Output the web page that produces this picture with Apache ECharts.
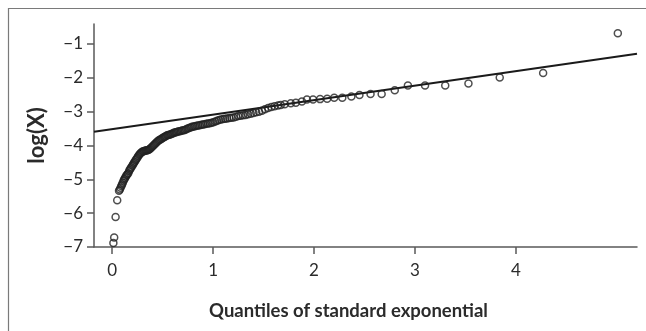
<!DOCTYPE html>
<html>
<head>
<meta charset="utf-8">
<script src="https://cdn.jsdelivr.net/npm/echarts@6/dist/echarts.min.js"></script>
<style>
html,body{margin:0;padding:0;background:#fff;}
#chart{width:646px;height:331px;}
</style>
</head>
<body>
<div id="chart"></div>
<script>
// ---- data ----
const lowX = [0.012, 0.020, 0.034, 0.050, 0.068];
const lowY = [-6.88, -6.72, -6.11, -5.62, -5.34];

const bandX = [
  0.076,0.083,0.091,0.098,0.105,0.113,0.120,0.128,0.135,0.143,
  0.151,0.159,0.167,0.174,0.182,0.190,0.199,0.207,0.215,0.223,
  0.232,0.240,0.249,0.257,0.266,0.274,0.283,0.292,0.301,0.310,
  0.319,0.329,0.338,0.347,0.357,0.366,0.376,0.386,0.396,0.406,
  0.416,0.426,0.436,0.446,0.457,0.467,0.478,0.489,0.500,0.511,
  0.522,0.533,0.545,0.556,0.568,0.580,0.592,0.604,0.616,0.629,
  0.641,0.654,0.667,0.680,0.693,0.707,0.720,0.734,0.748,0.762,
  0.777,0.791,0.806,0.821,0.836,0.852,0.868,0.884,0.900,0.916,
  0.933,0.950,0.968,0.985,1.003,1.022,1.040,1.059,1.079,1.099,
  1.119,1.139,1.161,1.182,1.204,1.227,1.250,1.273,1.297,1.322,
  1.347,1.373,1.400,1.427,1.455,1.484,1.514,1.545,1.577,1.609,
  1.643
];
const bandY = [
  -5.30,-5.25,-5.20,-5.15,-5.10,-5.04,-5.00,-4.96,-4.92,-4.88,
  -4.85,-4.82,-4.76,-4.72,-4.68,-4.64,-4.60,-4.56,-4.52,-4.48,
  -4.44,-4.40,-4.36,-4.32,-4.28,-4.25,-4.22,-4.20,-4.18,-4.17,
  -4.16,-4.15,-4.15,-4.14,-4.13,-4.12,-4.10,-4.07,-4.04,-4.01,
  -3.98,-3.95,-3.92,-3.89,-3.86,-3.84,-3.82,-3.80,-3.78,-3.76,
  -3.74,-3.72,-3.70,-3.69,-3.68,-3.67,-3.65,-3.64,-3.62,-3.61,
  -3.60,-3.59,-3.58,-3.57,-3.56,-3.55,-3.54,-3.52,-3.50,-3.48,
  -3.47,-3.45,-3.44,-3.43,-3.42,-3.41,-3.40,-3.39,-3.38,-3.37,
  -3.36,-3.35,-3.34,-3.33,-3.31,-3.29,-3.27,-3.25,-3.23,-3.22,
  -3.21,-3.20,-3.19,-3.18,-3.17,-3.15,-3.13,-3.12,-3.11,-3.10,
  -3.08,-3.06,-3.04,-3.02,-3.00,-2.97,-2.93,-2.89,-2.86,-2.84,
  -2.82
];

const tailX = [1.67,1.71,1.77,1.82,1.88,1.93,1.99,2.06,2.13,2.20,2.28,2.37,2.45,2.56,2.67,2.80,2.93,3.10,3.30,3.53,3.84,4.27,5.01];
const tailY = [-2.80,-2.78,-2.75,-2.74,-2.70,-2.64,-2.64,-2.63,-2.62,-2.59,-2.59,-2.55,-2.51,-2.48,-2.48,-2.37,-2.23,-2.23,-2.23,-2.17,-1.99,-1.86,-0.68];

// reference line endpoints
const lineX = [-0.18, 5.2];
const lineY = [-3.595, -1.287];

// tick labels
const xTicks = [0, 1, 2, 3, 4];
const yTicks = [-7, -6, -5, -4, -3, -2, -1];

const xName = 'Quantiles of standard exponential';
const yName = 'log(X)';

// ---- build ----
const pts = [];
[[lowX, lowY], [bandX, bandY], [tailX, tailY]].forEach(([xs, ys]) => {
  xs.forEach((x, i) => pts.push([x, ys[i]]));
});
const linePts = lineX.map((x, i) => [x, lineY[i]]);

const FONT = 'Lato, "Open Sans", sans-serif';
const axisCol = '#595959';
const textCol = '#2b2b2b';

const chart = echarts.init(document.getElementById('chart'), null, {renderer: 'canvas'});
chart.setOption({
  animation: false,
  backgroundColor: '#fff',
  grid: {left: 94, right: 9, top: 24, bottom: 84, containLabel: false},
  xAxis: {
    type: 'value',
    min: -0.18, max: 5.2,
    splitLine: {show: false},
    axisLine: {onZero: false, lineStyle: {color: axisCol, width: 1.5}},
    axisTick: {show: true, length: 7, customValues: xTicks, lineStyle: {color: axisCol, width: 1.5}},
    axisLabel: {customValues: xTicks, color: textCol, fontFamily: FONT, fontSize: 17, margin: 15},
    name: xName, nameLocation: 'middle', nameGap: 55,
    nameTextStyle: {fontFamily: FONT, fontWeight: 'bold', fontSize: 18.5, color: textCol, padding: [0, 34, 0, 0]}
  },
  yAxis: {
    type: 'value',
    min: -7, max: -0.41,
    splitLine: {show: false},
    axisLine: {onZero: false, lineStyle: {color: axisCol, width: 1.5}},
    axisTick: {show: true, length: 7, customValues: yTicks, lineStyle: {color: axisCol, width: 1.5}},
    axisLabel: {customValues: yTicks, color: textCol, fontFamily: FONT, fontSize: 17, margin: 11,
      formatter: v => (v < 0 ? '\u2212' + Math.abs(v) : String(v))},
    name: yName, nameLocation: 'middle', nameGap: 46, nameRotate: 90,
    nameTextStyle: {fontFamily: FONT, fontWeight: 'bold', fontSize: 22, color: textCol}
  },
  graphic: [{
    type: 'polyline',
    shape: {points: [[8.5, 400], [8.5, 8.5], [700, 8.5]]},
    style: {stroke: '#7a7a7a', lineWidth: 1.2, fill: null},
    silent: true
  }],
  series: [
    {
      type: 'line',
      data: linePts,
      showSymbol: false,
      lineStyle: {color: '#1a1a1a', width: 2},
      z: 3
    },
    {
      type: 'scatter',
      data: pts,
      symbol: 'circle',
      symbolSize: 7,
      itemStyle: {color: 'rgba(255,255,255,0)', borderColor: '#222', borderWidth: 1.5},
      z: 4
    }
  ]
});
</script>
</body>
</html>
